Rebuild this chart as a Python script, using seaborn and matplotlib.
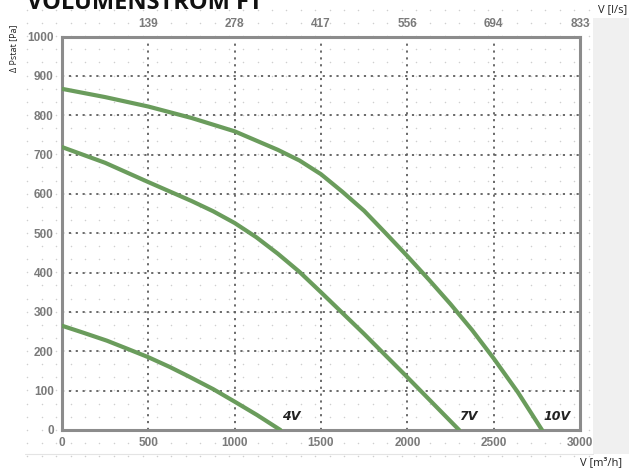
"""Fan curve chart: static pressure vs. air volume flow (VOLUMENSTROM FT)."""

import matplotlib

matplotlib.use("Agg")

import matplotlib.pyplot as plt
import numpy as np
import pandas as pd
import seaborn as sns
from matplotlib.patches import Rectangle

# --- data ----------------------------------------------------------------
flow_10v = [0, 250, 500, 750, 1000, 1250, 1375, 1500, 1625, 1750, 1875, 2000,
            2125, 2250, 2375, 2500, 2640, 2780]
pres_10v = [867, 846, 822, 793, 759, 712, 685, 650, 605, 557, 500, 442,
            382, 320, 254, 182, 96, 0]

flow_7v = [0, 250, 500, 750, 875, 1000, 1125, 1250, 1375, 1500, 1750, 2000,
           2150, 2300]
pres_7v = [719, 679, 630, 582, 556, 526, 490, 448, 402, 350, 244, 134, 67, 0]

flow_4v = [0, 125, 260, 375, 500, 625, 730, 875, 1000, 1130, 1265]
pres_4v = [265, 247, 227, 207, 185, 160, 137, 104, 72, 38, 0]

curve_names = ["10V", "7V", "4V"]
label_flow = [2865, 2351, 1330]
label_pres = [34, 34, 35]

x_ticks = [0, 500, 1000, 1500, 2000, 2500, 3000]
y_ticks = [0, 100, 200, 300, 400, 500, 600, 700, 800, 900, 1000]
top_tick_labels = ["139", "278", "417", "556", "694", "833"]

# --- build a long table for seaborn --------------------------------------
curves = pd.concat(
    [
        pd.DataFrame({"flow": flow_10v, "pressure": pres_10v, "curve": "10V"}),
        pd.DataFrame({"flow": flow_7v, "pressure": pres_7v, "curve": "7V"}),
        pd.DataFrame({"flow": flow_4v, "pressure": pres_4v, "curve": "4V"}),
    ],
    ignore_index=True,
)

sns.set_style("white")
plt.rcParams["font.family"] = ["Open Sans", "DejaVu Sans"]

W, H = 629, 475
fig = plt.figure(figsize=(W / 100, H / 100), dpi=100)
fig.patch.set_facecolor("white")

# light grey side panel of the page
fig.add_artist(Rectangle((593 / W, 1 - 454 / H), 36 / W, (454 - 18) / H,
                         transform=fig.transFigure, facecolor="#f0f0f0",
                         edgecolor="none", zorder=0))
# faint lower edge of the embedded image
fig.add_artist(plt.Line2D([25 / W, 593 / W], [1 - 454 / H, 1 - 454 / H],
                          transform=fig.transFigure, color="#e4e4e4", lw=0.8))

ax = fig.add_axes([62 / W, 1 - 430 / H, (580 - 62) / W, (430 - 36.5) / H])
ax.set_facecolor("white")

# faint dot lattice in the background of the original image
gx, gy = np.meshgrid(np.arange(-200, 3060, 500 / 6), np.arange(-66, 1120, 100 / 3))
ax.scatter(gx.ravel(), gy.ravel(), s=1.2, color="#cfcfcf", linewidths=0,
           clip_on=False, zorder=0)

# dotted major grid
for xv in x_ticks[1:-1]:
    ax.axvline(xv, color="#5e5e5e", lw=1.3, ls=(0, (1.2, 2.6)), zorder=1)
for yv in y_ticks[1:-1]:
    ax.axhline(yv, color="#5e5e5e", lw=1.3, ls=(0, (1.2, 2.6)), zorder=1)

sns.lineplot(data=curves, x="flow", y="pressure", hue="curve",
             palette={"10V": "#6a9c5c", "7V": "#6a9c5c", "4V": "#6a9c5c"},
             sort=True, lw=3.0, legend=False, ax=ax, zorder=3)

for name, fx, py in zip(curve_names, label_flow, label_pres):
    ax.text(fx, py, name, fontsize=9, fontweight="bold", style="italic",
            color="#222222", ha="center", va="center",
            family=["DejaVu Sans"], zorder=4)

ax.set_xlim(0, 3000)
ax.set_ylim(0, 1000)
ax.set_xlabel("")
ax.set_ylabel("")

tick_font = dict(family=["Liberation Sans", "DejaVu Sans"],
                 fontsize=8.5, fontweight="bold", color="#7a7a7a")
ax.set_xticks(x_ticks)
ax.set_xticklabels([str(v) for v in x_ticks], **tick_font)
ax.set_yticks(y_ticks)
ax.set_yticklabels([str(v) for v in y_ticks], **tick_font)
ax.tick_params(axis="x", length=0, pad=5)
ax.tick_params(axis="y", length=0, pad=6)

top = ax.secondary_xaxis("top")
top.set_xticks(x_ticks[1:])
top.set_xticklabels(top_tick_labels, **tick_font)
top.tick_params(length=0, pad=5)
top.spines["top"].set_visible(False)

for side in ["left", "right", "top", "bottom"]:
    ax.spines[side].set_visible(True)
    ax.spines[side].set_color("#8c8c8c")
    ax.spines[side].set_linewidth(2.2)

# titles and axis captions
fig.text(27 / W, 1 - 9 / H, "VOLUMENSTROM FT", fontsize=17, fontweight="bold",
         color="#111111", ha="left", va="baseline")
fig.text(14 / W, 1 - 48 / H, "Δ Pstat [Pa]", fontsize=6.5, rotation=90,
         color="#222222", ha="center", va="center")
fig.text(598 / W, 1 - 10 / H, "V [l/s]", fontsize=8, color="#222222",
         ha="left", va="center")
fig.text(580 / W, 1 - 463 / H, "V [m³/h]", fontsize=8, color="#222222",
         ha="left", va="center")

fig.savefig("out.png", dpi=100)
